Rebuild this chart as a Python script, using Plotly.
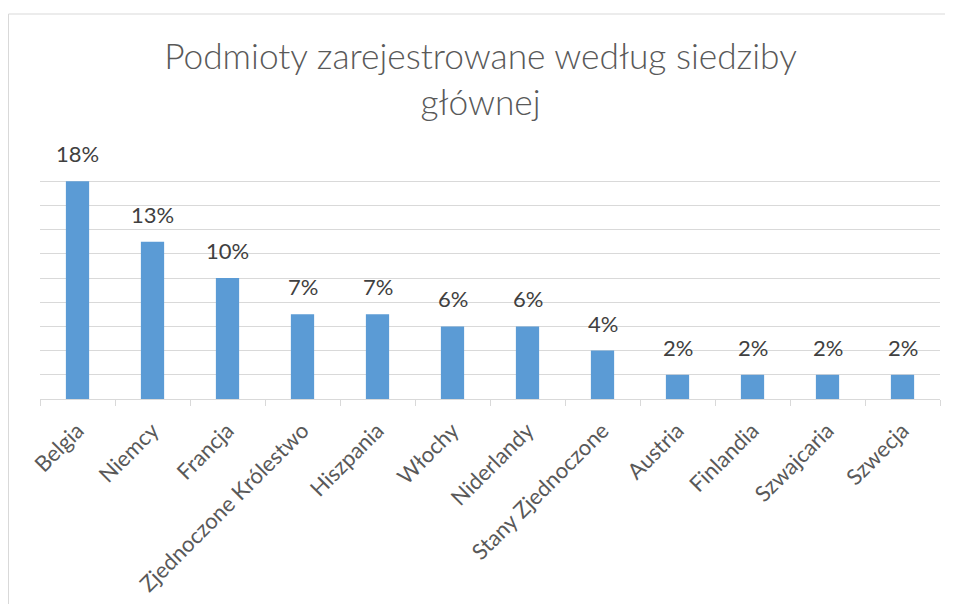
import plotly.graph_objects as go

categories = ["Belgia", "Niemcy", "Francja", "Zjednoczone Królestwo", "Hiszpania",
              "Włochy", "Niderlandy", "Stany Zjednoczone", "Austria", "Finlandia",
              "Szwajcaria", "Szwecja"]
values = [18, 13, 10, 7, 7, 6, 6, 4, 2, 2, 2, 2]
labels = [f"{v}%" for v in values]

FONT = "Lato"
fig = go.Figure()
fig.add_trace(go.Bar(x=categories, y=values, marker=dict(color="#5B9BD5", line=dict(width=0)),
                     hoverinfo="x+y"))

for c, v, t in zip(categories, values, labels):
    fig.add_annotation(x=c, y=v, text=t, showarrow=False, yanchor="bottom",
                       yshift=12, font=dict(family=FONT, size=22, color="#404040"))

# page body adds an 8px offset; figure is sized to fit the window
W, H = 945, 596
L, R, T, B = 32, 13, 149, 205
pw, ph = W - L - R, H - T - B
fig.add_shape(type="rect", xref="paper", yref="paper",
              x0=(0.5 - L) / pw, x1=(W + 20 - L) / pw,
              y0=-(B + 20) / ph, y1=1 + (T - 6) / ph,
              line=dict(color="#D9D9D9", width=1), layer="below")

fig.update_layout(
    width=W, height=H,
    margin=dict(l=L, r=R, t=T, b=B, autoexpand=False),
    paper_bgcolor="white", plot_bgcolor="white",
    bargap=0.69,
    showlegend=False,
    title=dict(text="Podmioty zarejestrowane według siedziby<br>głównej",
               x=0.5, xanchor="center", y=1 - 61 / H, yanchor="top",
               font=dict(family=FONT, size=35.3, color="#595959", weight=300)),
    font=dict(family=FONT),
)
fig.update_xaxes(showline=True, linecolor="#D9D9D9", linewidth=1, automargin=False,
                 ticks="outside", tickson="boundaries", ticklen=6, tickcolor="#D9D9D9",
                 ticklabelstandoff=9,
                 tickangle=-45, tickfont=dict(family=FONT, size=22, color="#595959"),
                 showgrid=False)
fig.update_yaxes(range=[0, 20], dtick=2, showgrid=True, gridcolor="#D9D9D9", gridwidth=1,
                 automargin=False,
                 showticklabels=False, zeroline=False, showline=False)

fig.write_html("out.html")
